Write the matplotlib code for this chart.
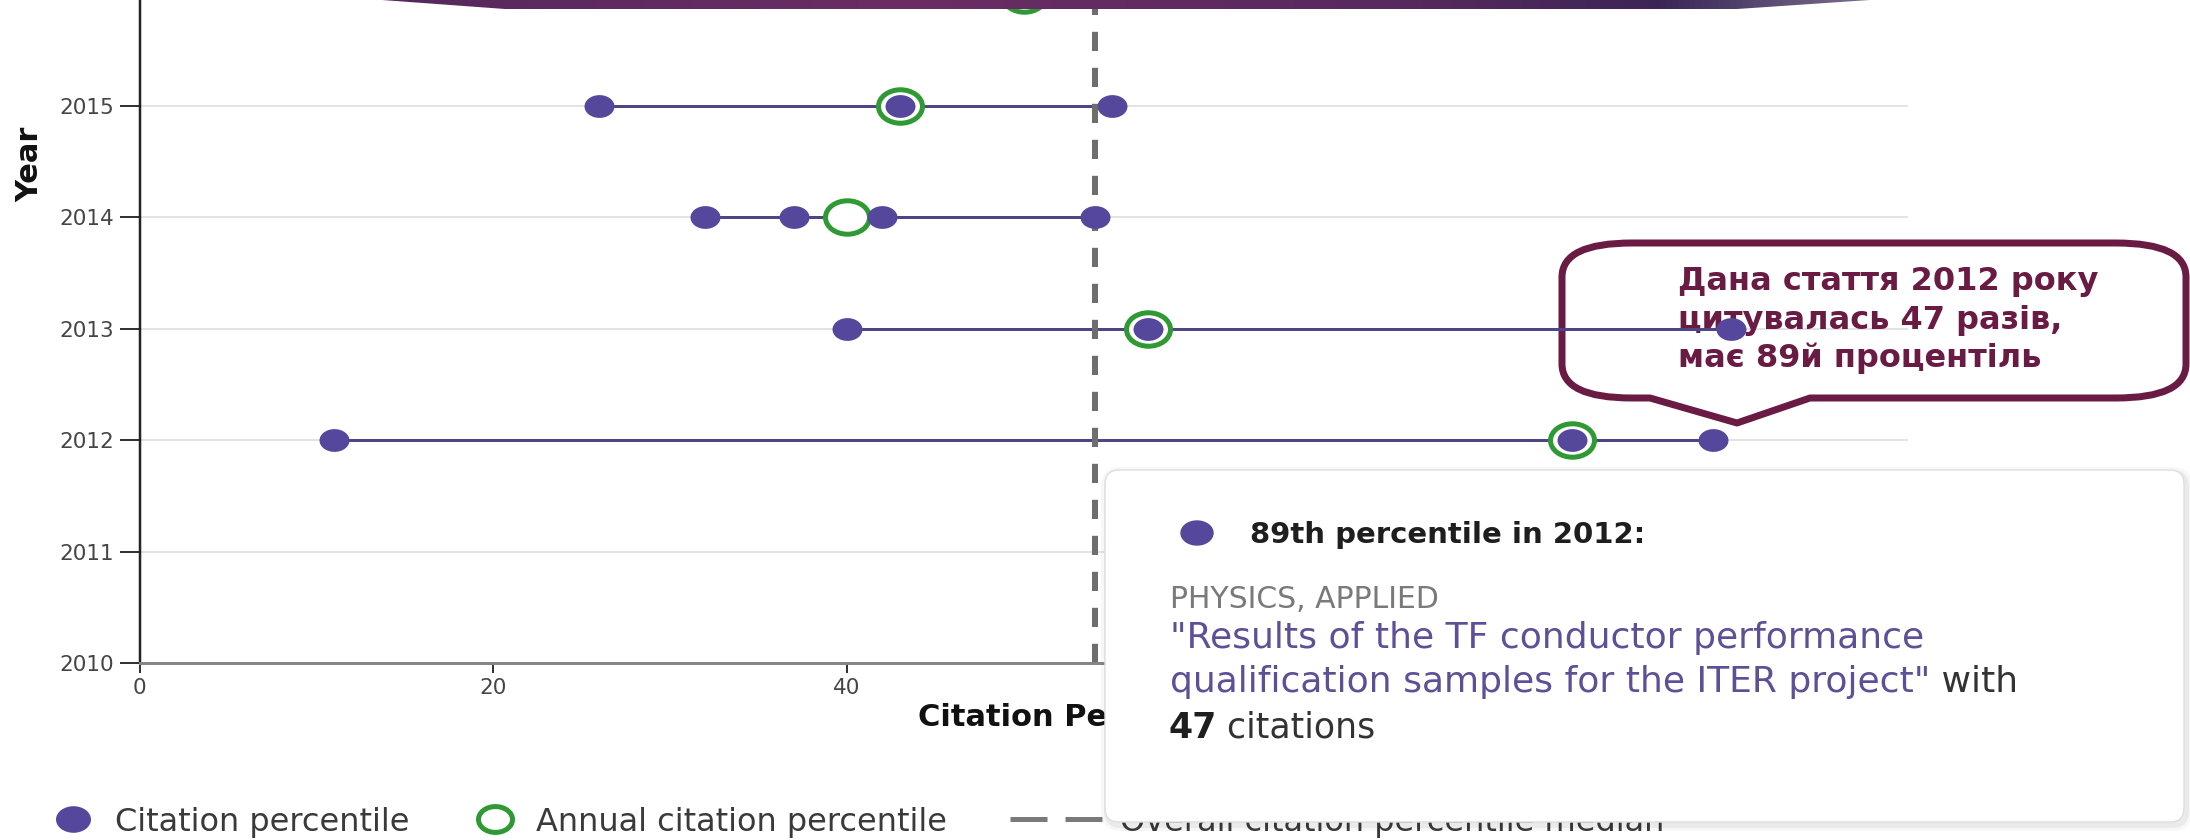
import numpy as np
import pandas as pd
import matplotlib
matplotlib.use("Agg")
import matplotlib.pyplot as plt
from matplotlib.path import Path
from matplotlib.transforms import Affine2D
from matplotlib.patches import PathPatch, Polygon, FancyBboxPatch, Ellipse
from matplotlib.lines import Line2D
from matplotlib.markers import MarkerStyle
from matplotlib.colors import LinearSegmentedColormap
from matplotlib.legend import Legend

# ---------------- data ----------------
paper_years = [2012, 2012, 2012, 2013, 2013, 2013, 2014, 2014, 2014, 2014, 2015, 2015, 2015]
paper_percentiles = [11, 81, 89, 40, 57, 90, 32, 37, 42, 54, 26, 43, 55]
annual_years = [2012, 2013, 2014, 2015, 2016]
annual_percentiles = [81, 57, 40, 43, 50]
overall_median = 54
year_ticks = [2010, 2011, 2012, 2013, 2014, 2015]
x_ticks = [0, 20, 40, 60, 80, 100]
x_tick_labels = ["0", "20", "40", "", "", ""]  # 60-100 are hidden behind the tooltip

legend_labels = ["Citation percentile", "Annual citation percentile",
                 "Overall citation percentile median"]
x_label = "Citation Percentile"
y_label = "Year"
callout_lines = ["Дана стаття 2012 року", "цитувалась 47 разів,", "має 89й процентіль"]
tooltip_title = "89th percentile in 2012:"
tooltip_category = "PHYSICS, APPLIED"
tooltip_line1 = '"Results of the TF conductor performance'
tooltip_line2 = 'qualification samples for the ITER project"'
tooltip_with = " with"
tooltip_count = "47"
tooltip_count_suffix = " citations"

# ---------------- style ----------------
W, H = 2190, 840
PURPLE = "#55489c"
PURPLE_LINE = "#4d4585"
GREEN = "#2f9a34"
MEDIAN = "#6e6e6e"
MAROON = "#6a1b43"
DESC = "#5e5096"
PT = 72 / 100.0  # points per pixel at dpi 100

plt.rcParams["font.family"] = ["DejaVu Sans"]

ell = Affine2D().scale(1, 0.76).transform_path(Path.unit_circle())
ell_marker = MarkerStyle(ell)

fig = plt.figure(figsize=(W / 100, H / 100), dpi=100)
ax_left, ax_right, ax_bottom_px, ax_top_px = 139.6, 1908.0, 663.0, 0.0
ax = fig.add_axes([ax_left / W, 1 - ax_bottom_px / H,
                   (ax_right - ax_left) / W, (ax_bottom_px - ax_top_px) / H])

# pixel overlay (y down)
ov = fig.add_axes([0, 0, 1, 1], zorder=10)
ov.set_xlim(0, W)
ov.set_ylim(H, 0)
ov.axis("off")
ov.patch.set_alpha(0)
P = ov.transData

# ---------------- main chart ----------------
df = pd.DataFrame({"year": paper_years, "pct": paper_percentiles})
rng = df.groupby("year")["pct"].agg(["min", "max"])
ax.hlines(rng.index, rng["min"], rng["max"], color=PURPLE_LINE, lw=3 * PT, zorder=2)
ax.axvline(overall_median, color=MEDIAN, lw=6 * PT, dashes=(3.2, 2.8), zorder=2.5)
ax.plot(annual_percentiles, annual_years, ls="none", marker=ell_marker,
        ms=44 * PT, mfc="white", mec=GREEN, mew=5 * PT, zorder=3)
ax.plot(df["pct"], df["year"], ls="none", marker=ell_marker, ms=30 * PT,
        color=PURPLE, mew=0, zorder=4)

ax.set_xticks(x_ticks)
ax.set_xticklabels(x_tick_labels)
ax.set_yticks(year_ticks)
ax.grid(axis="y", color="#e3e3e3", lw=2 * PT)
ax.set_axisbelow(True)
for s in ("top", "right"):
    ax.spines[s].set_visible(False)
ax.spines["left"].set_color("#222222")
ax.spines["left"].set_linewidth(2.5 * PT)
ax.spines["bottom"].set_color("#858585")
ax.spines["bottom"].set_linewidth(3 * PT)
ax.tick_params(axis="y", length=20 * PT, width=2 * PT, pad=4, labelsize=15.5,
               color="#333333", labelcolor="#454545")
ax.tick_params(axis="x", length=10 * PT, width=2 * PT, pad=3.6, labelsize=15.5,
               color="#333333", labelcolor="#454545")

xl = ax.set_xlabel(x_label, fontsize=22, fontweight="bold", color="#111111")
ax.xaxis.set_label_coords((918 - ax_left) / (ax_right - ax_left), -(718 - ax_bottom_px) / ax_bottom_px)
xl.set_ha("left")
xl.set_va("center")
yl = ax.set_ylabel(y_label, fontsize=22, fontweight="bold", color="#111111")
ax.yaxis.set_label_coords((30 - ax_left) / (ax_right - ax_left), (ax_bottom_px - 164) / ax_bottom_px)
yl.set_va("center")
yl.set_ha("center")

# ---------------- callout (under the data marks) ----------------
L, R, T, B = 1562, 2186, 243, 398
rx, ry = 70, 34
px1, px2, tipx, tipy = 1650, 1810, 1737, 423
verts = [(L + rx, T), (R - rx, T), (R, T), (R, T + ry), (R, B - ry), (R, B), (R - rx, B),
         (px2, B), (tipx, tipy), (px1, B), (L + rx, B), (L, B), (L, B - ry),
         (L, T + ry), (L, T), (L + rx, T), (L + rx, T)]
codes = [Path.MOVETO, Path.LINETO, Path.CURVE3, Path.CURVE3, Path.LINETO, Path.CURVE3,
         Path.CURVE3, Path.LINETO, Path.LINETO, Path.LINETO, Path.LINETO, Path.CURVE3,
         Path.CURVE3, Path.LINETO, Path.CURVE3, Path.CURVE3, Path.CLOSEPOLY]
callout = PathPatch(Path(verts, codes), transform=P, fc="none", ec=MAROON,
                    lw=7 * PT, zorder=1.5, joinstyle="round")
ax.add_patch(callout)
callout.set_clip_on(False)
for i, line in enumerate(callout_lines):
    t = ax.text(1678, 290 + 38.5 * i, line, transform=P, fontsize=23, fontweight="bold",
                color=MAROON, va="baseline", ha="left", zorder=1.6)
    t.set_clip_on(False)

ax.set_xlim(0, 100)
ax.set_ylim(2010, 2010 + (ax_bottom_px - ax_top_px) / 111.4)

# ---------------- legend ----------------
LEG_FS = 23
em = LEG_FS / PT  # px per em
h_dot = Line2D([], [], ls="none", marker=ell_marker, ms=35 * PT, color=PURPLE, mew=0)
h_ring = Line2D([], [], ls="none", marker=ell_marker, ms=34 * PT, mfc="white",
                mec=GREEN, mew=5 * PT)
h_dash = Line2D([], [], color="#7a7a7a", lw=5 * PT, dashes=(7.4, 3.6),
                dash_capstyle="butt", solid_capstyle="butt")
leg_a = Legend(fig, [h_dot, h_ring], legend_labels[:2], loc="center left",
               bbox_to_anchor=(53 / W, 1 - 822 / H), ncol=2, frameon=False,
               fontsize=LEG_FS, handlelength=40 / em, handletextpad=22 / em,
               columnspacing=65 / em, borderpad=0, borderaxespad=0,
               labelcolor="#3a3a3a")
leg_b = Legend(fig, [h_dash], legend_labels[2:], loc="center left",
               bbox_to_anchor=(1010 / W, 1 - 822 / H), ncol=1, frameon=False,
               fontsize=LEG_FS, handlelength=92 / em, handletextpad=18 / em,
               borderpad=0, borderaxespad=0, labelcolor="#3a3a3a")
fig.add_artist(leg_a)
fig.add_artist(leg_b)

# ---------------- top banner ----------------
grad = np.linspace(0, 1, 512).reshape(1, -1)
cmap = LinearSegmentedColormap.from_list(
    "banner", [(0, "#55295d"), (0.35, "#6b2d64"), (0.7, "#56295e"), (0.86, "#3c2555"),
               (0.9, "#4a3a66"), (1, "#7a6f8e")])
img = ov.imshow(grad, extent=(382, 1870, 9, 0), aspect="auto", cmap=cmap, zorder=20)
banner = Polygon([(382, 0), (1870, 0), (1737, 9), (505, 9)], closed=True,
                 transform=P, fc="none", ec="none")
ov.add_patch(banner)
img.set_clip_path(banner)

# ---------------- tooltip ----------------
tx, ty, tw, th = 1105, 470, 1079, 352
for d, a in ((6, 0.03), (3, 0.05)):
    ov.add_patch(FancyBboxPatch((tx - d + 2, ty - d + 3), tw + 2 * d, th + 2 * d,
                                boxstyle="round,pad=0,rounding_size=%d" % (14 + d),
                                fc="black", ec="none", alpha=a, zorder=29))
ov.add_patch(FancyBboxPatch((tx, ty), tw, th, boxstyle="round,pad=0,rounding_size=14",
                            fc="white", ec="#dedede", lw=1, zorder=30))
ov.add_patch(Ellipse((1197, 533), 32, 24, color=PURPLE, zorder=31))
kw = dict(va="baseline", ha="left", zorder=31, clip_on=False)
ov.text(1250, 543, tooltip_title, fontsize=21, fontweight="bold", color="#1e1e1e", **kw)
ov.text(1170, 608, tooltip_category, fontsize=21.5, color="#7a7a7a", **kw)
ov.text(1170, 648, tooltip_line1, fontsize=26, color=DESC, **kw)
t2 = ov.text(1170, 692, tooltip_line2, fontsize=26, color=DESC, **kw)
ov.annotate(tooltip_with, xy=(1, 0), xycoords=t2, fontsize=26, color="#333333",
            va="bottom", ha="left", zorder=31)
t3 = ov.text(1168, 738, tooltip_count, fontsize=25, fontweight="bold", color="#1e1e1e", **kw)
ov.annotate(tooltip_count_suffix, xy=(1, 0), xycoords=t3, fontsize=25, color="#333333",
            va="bottom", ha="left", zorder=31)

ov.set_xlim(0, W)
ov.set_ylim(H, 0)

fig.savefig("out.png", dpi=100, facecolor="white")
